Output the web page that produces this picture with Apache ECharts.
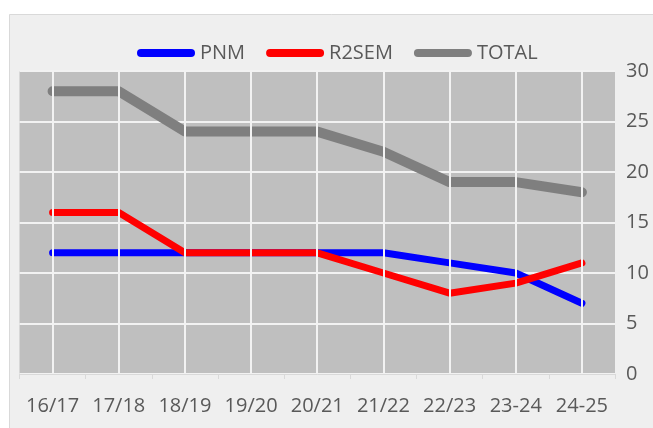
<!DOCTYPE html>
<html>
<head>
<meta charset="utf-8">
<script src="https://cdn.jsdelivr.net/npm/echarts@6/dist/echarts.min.js"></script>
<style>
  html, body { margin: 0; padding: 0; background: #fff; }
  #chart { width: 653px; height: 428px; }
</style>
</head>
<body>
<div id="chart"></div>
<script>
const seasons = ['16/17', '17/18', '18/19', '19/20', '20/21', '21/22', '22/23', '23-24', '24-25'];
const pnm = [12, 12, 12, 12, 12, 12, 11, 10, 7];
const r2sem = [16, 16, 12, 12, 12, 10, 8, 9, 11];
const total = [28, 28, 24, 24, 24, 22, 19, 19, 18];
const yTicks = [0, 30, 5]; // min, max, step

const txt = '#595959';
const pill = 'path://M4,0 L54,0 A4,4 0 0 1 54,8 L4,8 A4,4 0 0 1 4,0 Z';

function lineSeries(name, data, color, width) {
  return {
    name: name,
    type: 'line',
    data: data,
    symbol: 'none',
    z: 3,
    lineStyle: {color: color, width: width, cap: 'round', join: 'round'},
    itemStyle: {color: color}
  };
}

const chart = echarts.init(document.getElementById('chart'));
chart.setOption({
  animation: false,
  textStyle: {fontFamily: 'Open Sans'},
  graphic: [{
    type: 'rect', z: -10, silent: true,
    shape: {x: 9.5, y: 14.5, width: 700, height: 500},
    style: {fill: '#efefef', stroke: '#d9d9d9', lineWidth: 1}
  }],
  legend: {
    data: ['PNM', 'R2SEM', 'TOTAL'],
    left: 132,
    top: 38,
    itemWidth: 58,
    itemHeight: 8,
    itemGap: 21,
    icon: pill,
    textStyle: {color: txt, fontSize: 20, fontFamily: 'Open Sans'}
  },
  grid: {
    left: 19.5, right: 38, top: 71, bottom: 54,
    show: true, backgroundColor: '#bfbfbf', borderWidth: 0,
    containLabel: false
  },
  xAxis: {
    type: 'category',
    data: seasons,
    boundaryGap: true,
    axisLine: {lineStyle: {color: '#d9d9d9', width: 1}},
    axisTick: {show: true, length: 5, lineStyle: {color: '#d9d9d9'}},
    axisLabel: {color: txt, fontSize: 20, margin: 22, interval: 0, fontFamily: 'Open Sans'},
    splitLine: {show: false}
  },
  yAxis: {
    type: 'value',
    position: 'right',
    min: yTicks[0], max: yTicks[1], interval: yTicks[2],
    axisLine: {show: false},
    axisTick: {show: false},
    axisLabel: {color: txt, fontSize: 20, margin: 11, fontFamily: 'Open Sans'},
    splitLine: {lineStyle: {color: '#f2f2f2', width: 2}}
  },
  series: [
    {
      // white vertical lines at each category centre
      name: 'grid-v',
      type: 'line',
      data: [],
      z: 1,
      silent: true,
      markLine: {
        silent: true,
        symbol: 'none',
        label: {show: false},
        lineStyle: {color: '#f2f2f2', width: 2, type: 'solid'},
        data: seasons.map(s => ({xAxis: s}))
      }
    },
    lineSeries('PNM', pnm, '#0000ff', 7),
    lineSeries('R2SEM', r2sem, '#ff0000', 7),
    lineSeries('TOTAL', total, '#7f7f7f', 10)
  ]
});
</script>
</body>
</html>
